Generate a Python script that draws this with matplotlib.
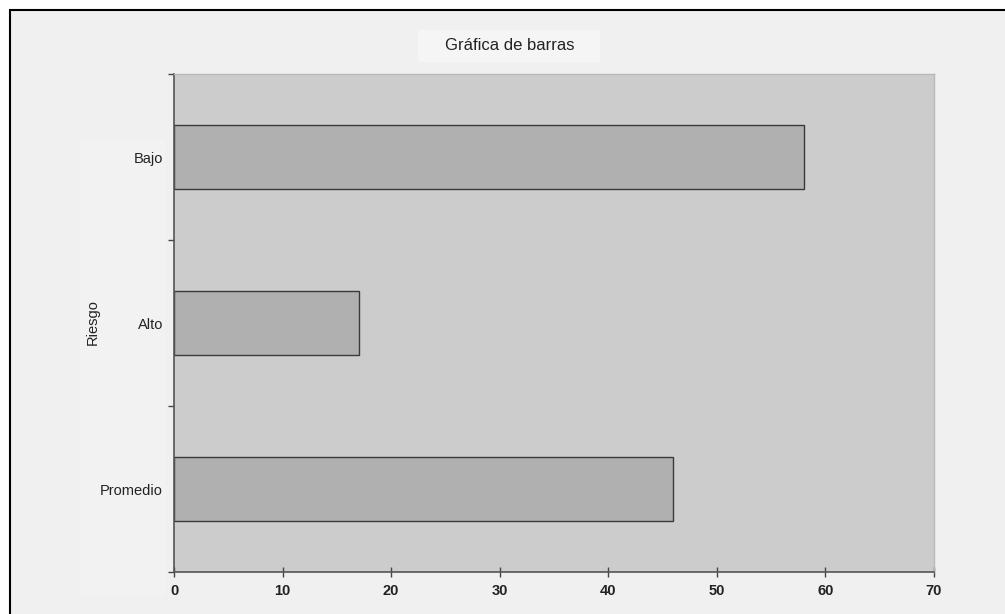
import matplotlib
matplotlib.use("Agg")
import matplotlib.pyplot as plt
from matplotlib.patches import Rectangle

categories = ["Bajo", "Alto", "Promedio"]
values = [58, 17, 46]
x_ticks = [0, 10, 20, 30, 40, 50, 60, 70]
title = "Gráfica de barras"
ylabel = "Riesgo"

plt.rcParams['font.family'] = ['Liberation Sans', 'DejaVu Sans']

W, H = 1005, 614
fig = plt.figure(figsize=(W / 100, H / 100), dpi=100, facecolor='white')

# outer frame
fig.patches.append(Rectangle((10 / W, -0.2), 2, (1 - 10 / H) + 0.2, transform=fig.transFigure,
                             facecolor='#f0f0f0', edgecolor='black', lw=1.5, zorder=-10))
# faint label region
fig.patches.append(Rectangle((80 / W, 1 - 595 / H), (165 - 80) / W, (595 - 140) / H,
                             transform=fig.transFigure, facecolor='#f2f2f2', edgecolor='none', zorder=-9))
# title box
fig.patches.append(Rectangle((418 / W, 1 - 62 / H), (600 - 418) / W, 32 / H, transform=fig.transFigure,
                             facecolor='#f5f5f5', edgecolor='none', zorder=-9))
fig.text(510 / W, 1 - 46 / H, title, ha='center', va='center', fontsize=12, color='#222222')

ax = fig.add_axes([174 / W, 1 - 572 / H, 760 / W, 498 / H])
ax.set_facecolor('#cccccc')
ypos = list(range(len(categories)))
ax.barh(ypos, values, height=0.39, color='#b0b0b0', edgecolor='#3a3a3a', linewidth=1.0, zorder=2)
ax.set_ylim(len(categories) - 0.5, -0.5)
ax.set_xlim(x_ticks[0], x_ticks[-1])

ax.set_yticks(ypos)
ax.set_yticklabels(categories, fontsize=10.5, color='#222222')
ax.set_yticks([i - 0.5 for i in range(len(categories) + 1)], minor=True)
ax.tick_params(axis='y', which='major', length=0, pad=8)
ax.tick_params(axis='y', which='minor', length=4, direction='out', color='#444444', width=1)

ax.set_xticks(x_ticks)
ax.set_xticklabels([str(t) for t in x_ticks], fontsize=10.5, fontweight='bold', color='#222222')
ax.tick_params(axis='x', length=7, direction='inout', color='#444444', width=1, pad=5)

for s in ['left', 'bottom']:
    ax.spines[s].set_color('#555555')
    ax.spines[s].set_linewidth(1.2)
for s in ['top', 'right']:
    ax.spines[s].set_color('#b8b8b8')
    ax.spines[s].set_linewidth(1.0)

fig.text(93 / W, 1 - 322 / H, ylabel, rotation=90, ha='center', va='center', fontsize=10.5, color='#222222')

fig.savefig('out.png', dpi=100, facecolor=fig.get_facecolor())
